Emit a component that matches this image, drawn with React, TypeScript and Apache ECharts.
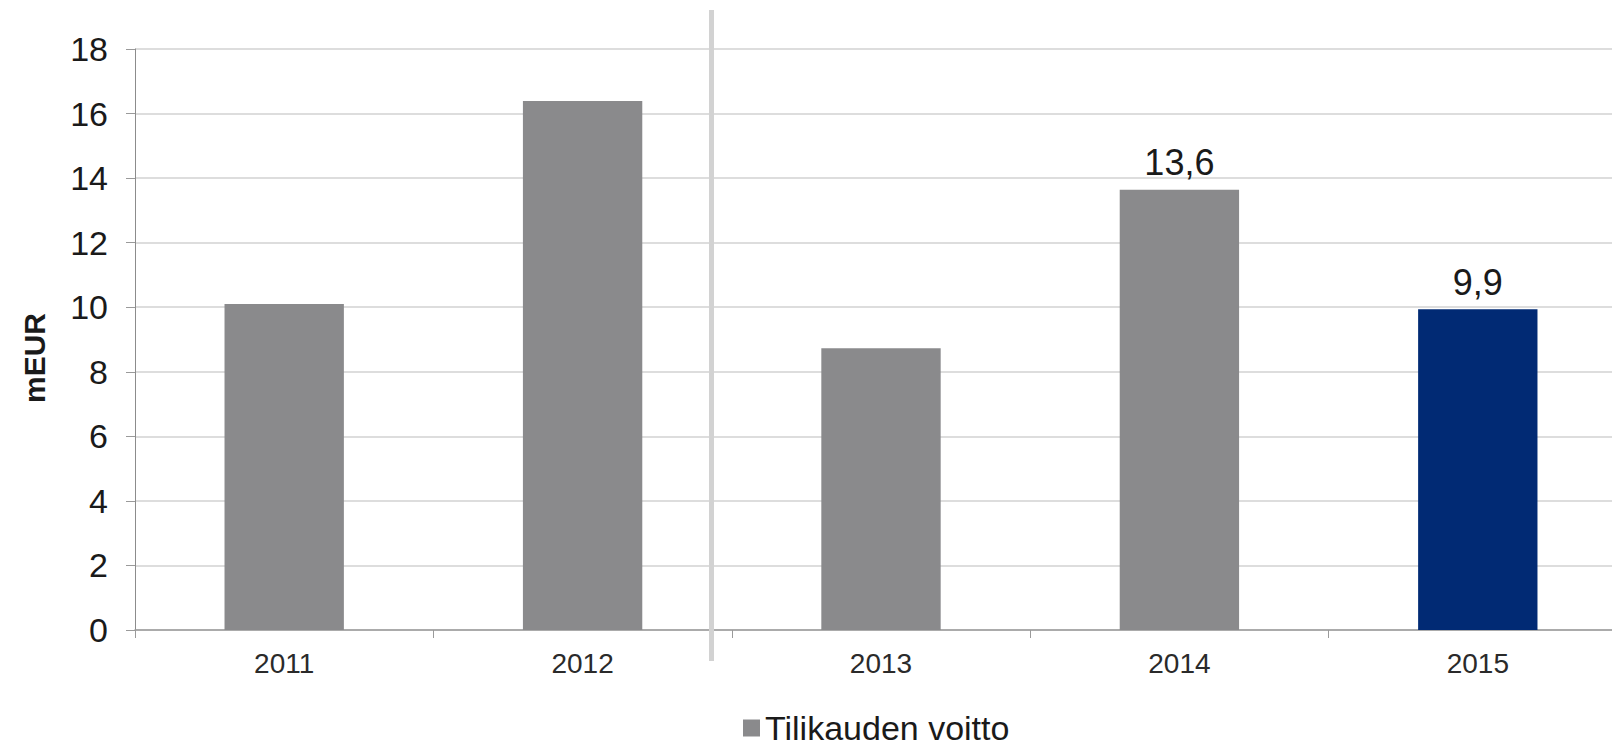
import React, { useEffect, useRef } from "react";
import * as echarts from "echarts";

const categories = ["2011", "2012", "2013", "2014", "2015"];
const profitValues = [10.1, 16.39, 8.73, 13.64, 9.94];
const showValueLabel = [false, false, false, true, true];
const barColors = ["#8a8a8c", "#8a8a8c", "#8a8a8c", "#8a8a8c", "#012a74"];
const yTicks = { min: 0, max: 18, interval: 2 };
const seriesName = "Tilikauden voitto";
const yAxisName = "mEUR";

const FONT = "'Liberation Sans', Arial, sans-serif";

export default function App() {
  const ref = useRef<HTMLDivElement>(null);
  useEffect(() => {
    if (!ref.current) return;
    const chart = echarts.init(ref.current, undefined, { renderer: "svg" });
    chart.setOption({
      animation: false,
      backgroundColor: "#ffffff",
      textStyle: { fontFamily: FONT },
      grid: { left: 135, top: 49, height: 581, width: 1492, containLabel: false },
      legend: {
        left: 743,
        top: 711,
        padding: 0,
        itemWidth: 17,
        itemHeight: 17,
        itemGap: 10,
        icon: "rect",
        textStyle: { fontSize: 34, lineHeight: 30, color: "#1a1a1a", fontFamily: FONT },
        data: [{ name: seriesName, itemStyle: { color: "#8a8a8c" } }],
      },
      xAxis: {
        type: "category",
        data: categories,
        axisLine: { show: true, lineStyle: { color: "#9a9a9a", width: 1.5 } },
        axisTick: { show: true, length: 8, lineStyle: { color: "#9a9a9a", width: 1 } },
        axisLabel: { fontSize: 28, color: "#2a2a2a", margin: 19, fontFamily: FONT },
        splitLine: { show: false },
      },
      yAxis: {
        type: "value",
        min: yTicks.min,
        max: yTicks.max,
        interval: yTicks.interval,
        axisLine: { show: true, lineStyle: { color: "#8c8c8c", width: 1 } },
        axisTick: { show: true, length: 9, lineStyle: { color: "#9a9a9a", width: 1 } },
        axisLabel: { fontSize: 34, color: "#1a1a1a", margin: 27, fontFamily: FONT },
        splitLine: { show: true, lineStyle: { color: "#dddddd", width: 2 } },
      },
      series: [
        {
          name: seriesName,
          type: "bar",
          barWidth: "40%",
          itemStyle: { color: "#8a8a8c" },
          data: profitValues.map((v, i) => ({
            value: v,
            itemStyle: { color: barColors[i] },
            label: {
              show: showValueLabel[i],
              position: "top",
              distance: 9,
              fontSize: 36,
              color: "#1a1a1a",
              fontFamily: FONT,
              formatter: (p: any) => p.value.toFixed(1).replace(".", ","),
            },
          })),
        },
      ],
      graphic: [
        {
          type: "rect",
          shape: { x: 709, y: 10, width: 5, height: 651 },
          style: { fill: "#d2d2d2" },
          z: 10,
        },
        {
          type: "text",
          x: 34,
          y: 358,
          rotation: Math.PI / 2,
          style: {
            text: yAxisName,
            fontSize: 30,
            fontWeight: "bold",
            fill: "#1a1a1a",
            fontFamily: FONT,
            align: "center",
            verticalAlign: "middle",
          },
        },
      ],
    });
    return () => chart.dispose();
  }, []);
  return (
    <div
      style={{
        position: "fixed",
        left: 0,
        top: 0,
        width: 1612,
        height: 747,
        overflow: "hidden",
        background: "#fff",
      }}
    >
      <div ref={ref} style={{ width: 1660, height: 747 }} />
    </div>
  );
}
